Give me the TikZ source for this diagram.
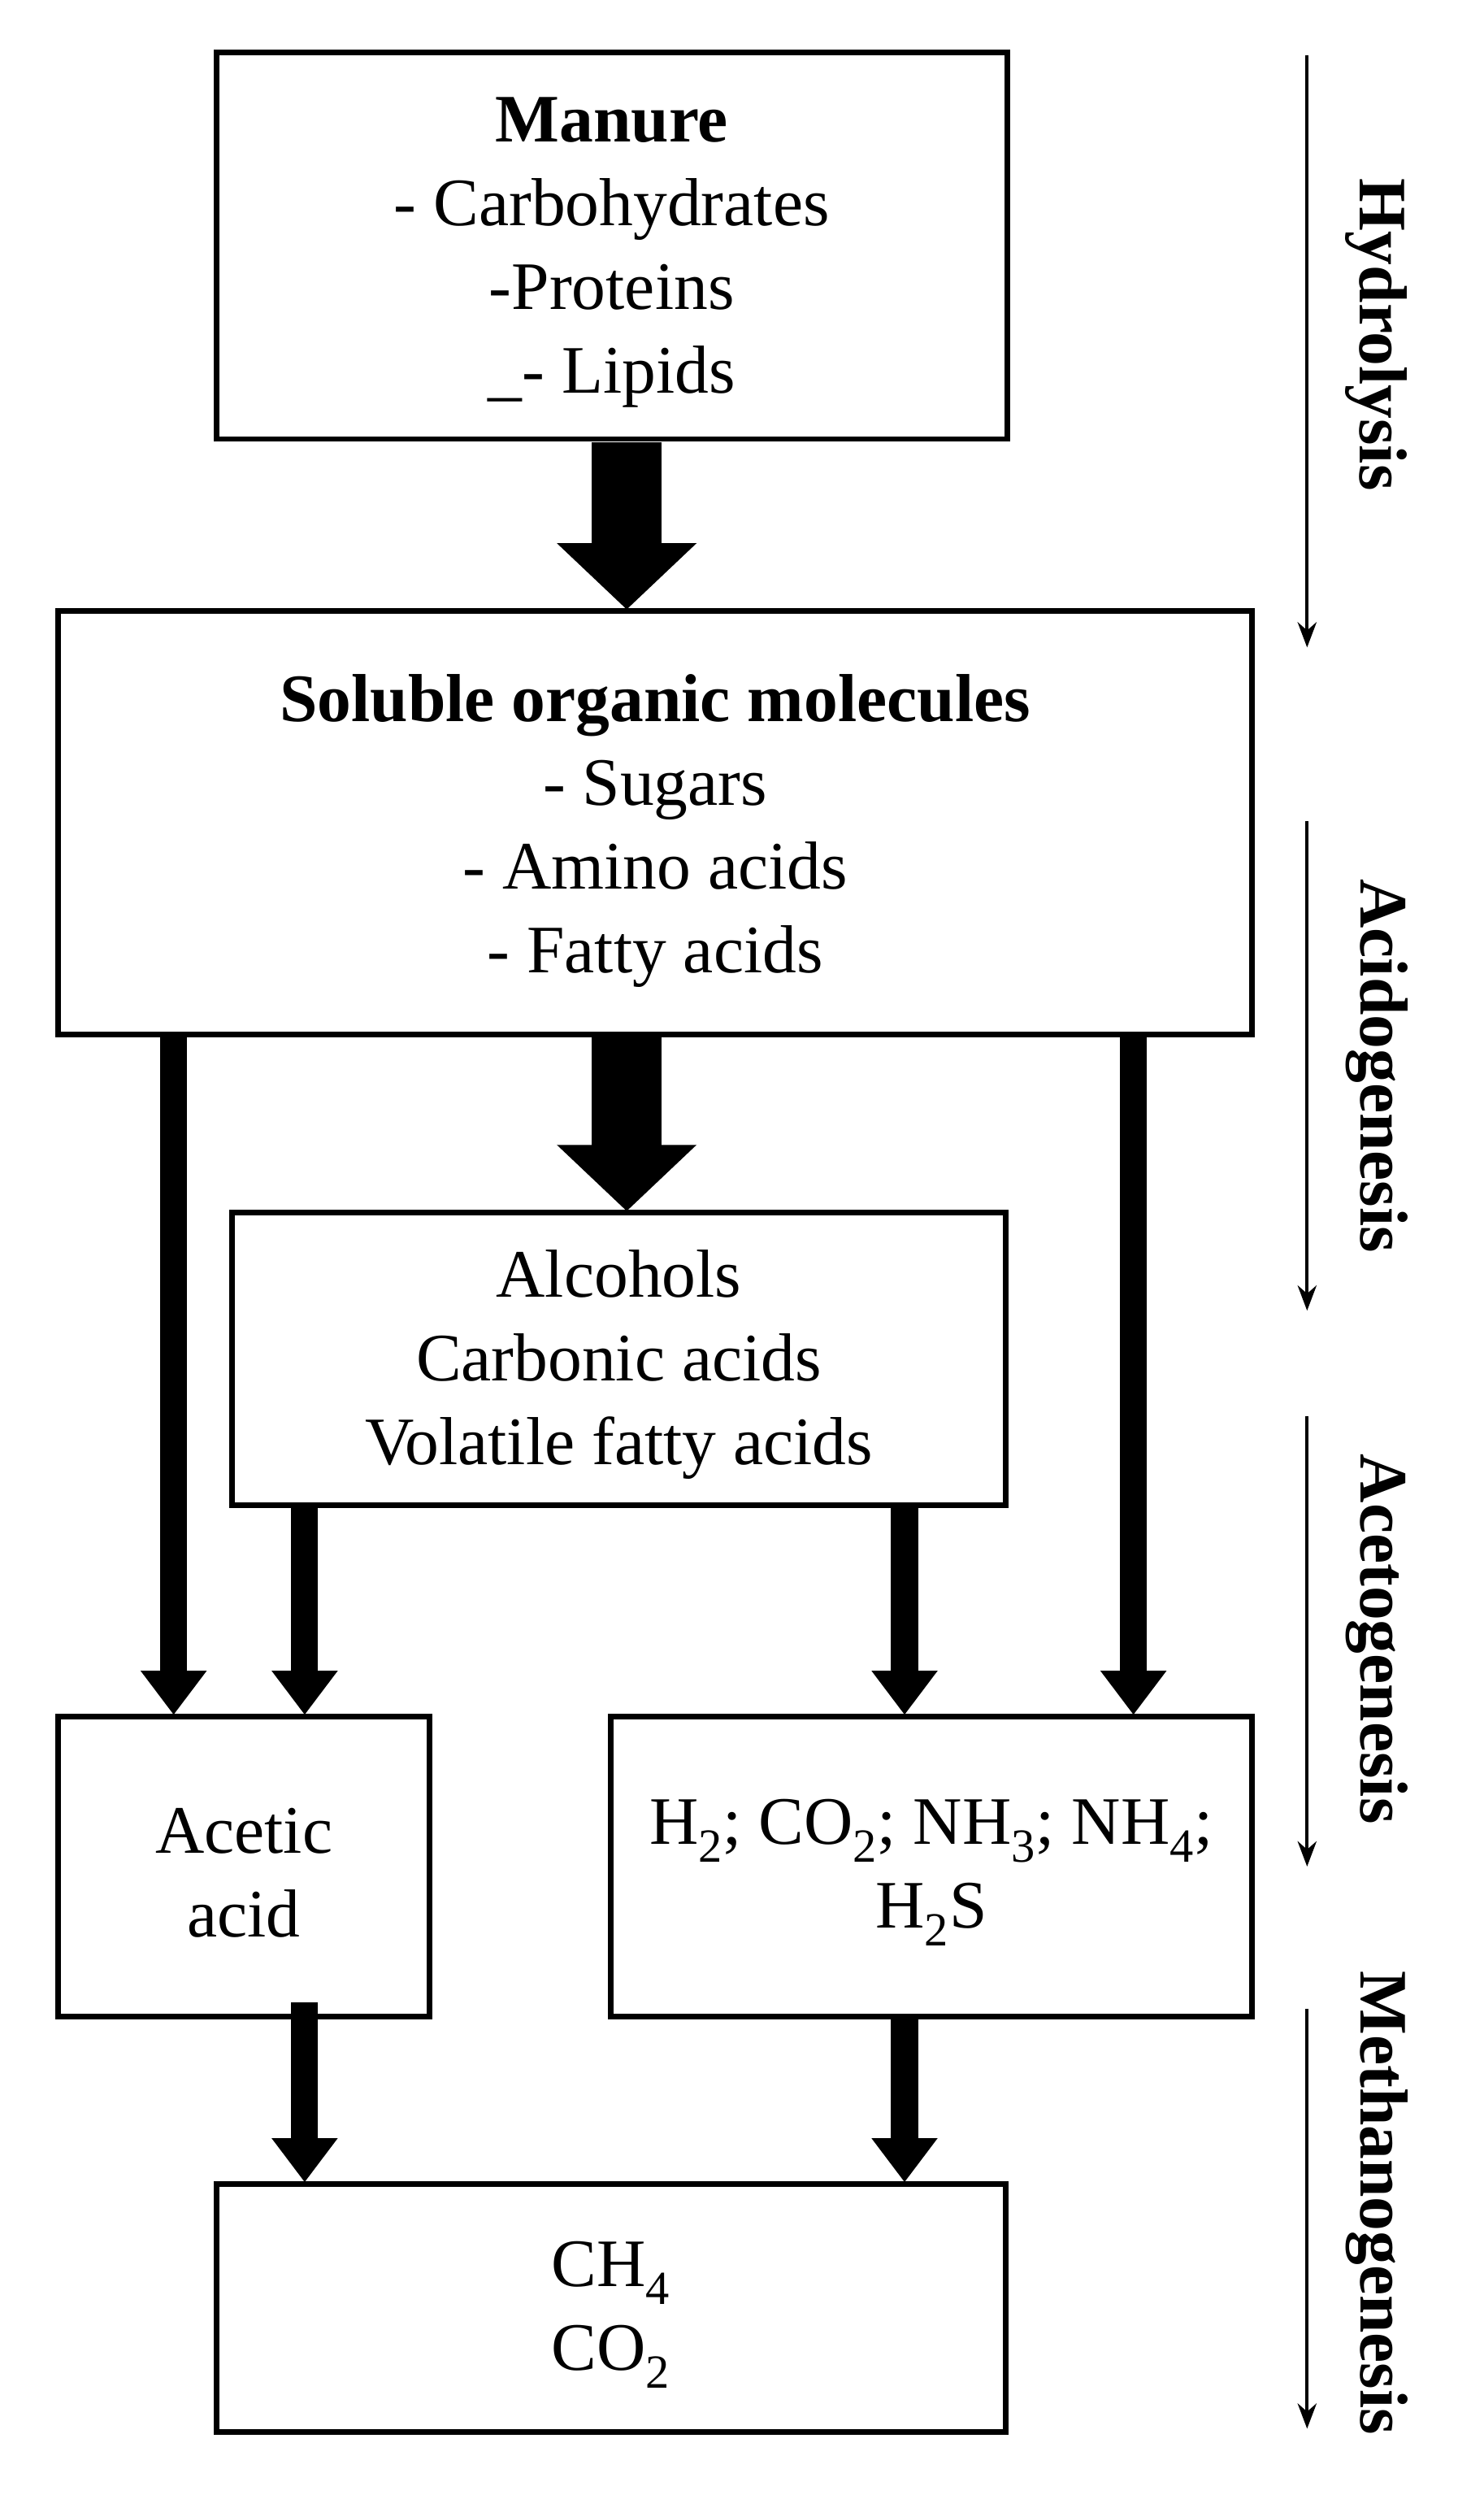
\documentclass[tikz,border=0pt]{standalone}
\usepackage{fontspec}
\setmainfont{Liberation Serif}
\usetikzlibrary{arrows.meta}
\newcommand{\sbx}[1]{\textsubscript{#1}}
\begin{document}
\begin{tikzpicture}[x=1pt,y=-1pt,
  box/.style={draw,line width=3.5pt,inner sep=0pt},
  txt/.style={align=center,font=\fontsize{43}{53}\selectfont},
  fat/.style={line width=44pt,-{Triangle[width=86pt,length=42pt]}},
  mid/.style={line width=17pt,-{Triangle[width=40pt,length=28pt]}},
  side/.style={line width=2pt,-{Stealth[width=12pt,length=16pt]}},
  lab/.style={rotate=-90,font=\fontsize{43}{48}\selectfont\bfseries}]
\useasboundingbox (0,0) rectangle (940,1580);
\node[box,minimum width=501pt,minimum height=245pt] (man) at (387.5,155.5) {};
\node[txt] (mant) at (387.5,160) {\textbf{Manure}\\- Carbohydrates\\-Proteins\\\_- Lipids};
\node[box,minimum width=756pt,minimum height=268pt] (sol) at (415,521) {};
\node[txt] (solt) at (415,526) {\textbf{Soluble organic molecules}\\- Sugars\\- Amino acids\\- Fatty acids};
\node[box,minimum width=490pt,minimum height=185pt] (alc) at (392,860.5) {};
\node[txt] (alct) at (392,864) {Alcohols\\Carbonic acids\\Volatile fatty acids};
\node[box,minimum width=235pt,minimum height=190pt] (ace) at (154.5,1182) {};
\node[txt] (acet) at (154.5,1186) {Acetic\\acid};
\node[box,minimum width=406pt,minimum height=190pt] (gas) at (590,1182) {};
\node[txt] (gast) at (590,1186) {H\sbx{2}; CO\sbx{2}; NH\sbx{3}; NH\sbx{4};\\H\sbx{2}S};
\node[box,minimum width=500pt,minimum height=157pt] (ch) at (387,1461.5) {};
\node[txt] (cht) at (387,1466) {CH\sbx{4}\\CO\sbx{2}};
\coordinate (a1) at (397,280); \coordinate (a2) at (397,386);
\draw[fat] (a1) -- (a2);
\coordinate (b1) at (397,657); \coordinate (b2) at (397,767);
\draw[fat] (b1) -- (b2);
\foreach \n/\x/\ya/\yb in {c/110/655/1086,d/193/955/1086,e/573/955/1086,f/718/657/1086,g/193/1268/1382,h/573/1279/1382}{
  \coordinate (\n1) at (\x,\ya); \coordinate (\n2) at (\x,\yb);
  \draw[mid] (\n1) -- (\n2);}
\foreach \n/\ya/\yb in {h/35/410,ac/520/830,at/897/1182,m/1272/1538}{
  \coordinate (s\n1) at (828,\ya); \coordinate (s\n2) at (828,\yb);
  \draw[side] (s\n1) -- (s\n2);}
\node[lab] (l1) at (872,212) {Hydrolysis};
\node[lab] (l2) at (872,675) {Acidogenesis};
\node[lab] (l3) at (872,1038) {Acetogenesis};
\node[lab] (l4) at (872,1395) {Methanogenesis};
\end{tikzpicture}
\end{document}
